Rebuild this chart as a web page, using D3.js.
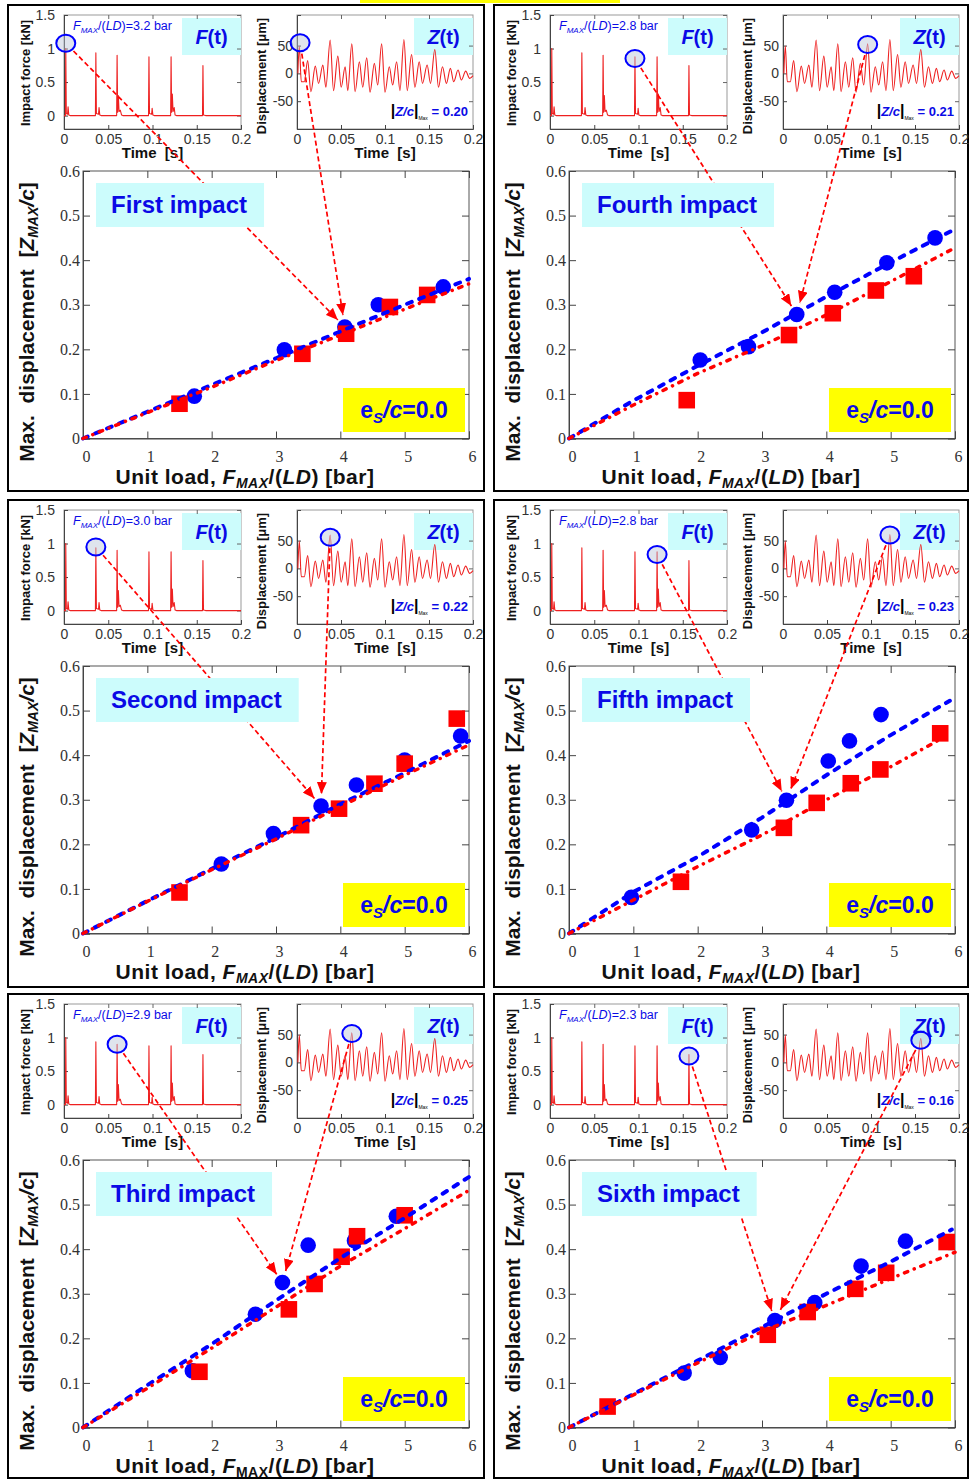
<!DOCTYPE html>
<html>
<head>
<meta charset="utf-8">
<script src="https://cdn.jsdelivr.net/npm/d3@7/dist/d3.min.js"></script>
<style>
  body { margin: 0; background: #fff; }
  svg { display: block; font-family: "Liberation Sans", Arial, sans-serif; }
</style>
</head>
<body>
<svg id="chart" width="969" height="1479"></svg>
<script>
// ---------------- data ----------------
const impactNames = ["First impact", "Second impact", "Third impact", "Fourth impact", "Fifth impact", "Sixth impact"];
const unitLoadLabels = ["3.2", "3.0", "2.9", "2.8", "2.8", "2.3"];
const zcMaxLabels = ["0.20", "0.22", "0.25", "0.21", "0.23", "0.16"];

const loadTicks = [0, 1, 2, 3, 4, 5, 6];
const dispTicks = [0, 0.1, 0.2, 0.3, 0.4, 0.5, 0.6];
const timeTicks = [0, 0.05, 0.1, 0.15, 0.2];
const forceTicks = [0, 0.5, 1, 1.5];
const zTicks = [-50, 0, 50];

// blue circles (measured) per impact: [unit load, Zmax/c]
const circlePts = [
  [[1.73, 0.095], [3.13, 0.199], [4.07, 0.25], [4.59, 0.30], [5.6, 0.34]],
  [[2.15, 0.156], [2.96, 0.224], [3.70, 0.286], [4.25, 0.333], [5.0, 0.389], [5.87, 0.443]],
  [[1.70, 0.127], [2.68, 0.254], [3.10, 0.325], [3.50, 0.409], [4.22, 0.419], [4.87, 0.474]],
  [[2.04, 0.176], [2.79, 0.206], [3.54, 0.278], [4.13, 0.328], [4.94, 0.394], [5.69, 0.45]],
  [[0.97, 0.081], [2.84, 0.232], [3.38, 0.299], [4.03, 0.387], [4.36, 0.432], [4.85, 0.491]],
  [[1.79, 0.122], [2.35, 0.157], [3.20, 0.24], [3.82, 0.28], [4.54, 0.362], [5.23, 0.418]]
];
// red squares per impact
const squarePts = [
  [[1.50, 0.078], [3.41, 0.19], [4.09, 0.235], [4.77, 0.295], [5.35, 0.322]],
  [[1.50, 0.092], [3.39, 0.243], [3.98, 0.280], [4.53, 0.336], [5.0, 0.381], [5.81, 0.482]],
  [[1.81, 0.125], [3.20, 0.265], [3.60, 0.322], [4.02, 0.383], [4.26, 0.429], [5.0, 0.476]],
  [[1.83, 0.086], [3.42, 0.232], [4.10, 0.281], [4.77, 0.332], [5.36, 0.364]],
  [[1.74, 0.116], [3.34, 0.237], [3.85, 0.293], [4.38, 0.337], [4.84, 0.368], [5.77, 0.449]],
  [[0.60, 0.047], [3.09, 0.208], [3.71, 0.259], [4.45, 0.311], [4.93, 0.347], [5.87, 0.416]]
];
// calculated curves
const blueLine = [
  [[0, 0], [1, 0.06], [2, 0.12], [3, 0.18], [4, 0.24], [5, 0.30], [6, 0.358]],
  [[0, 0], [1, 0.073], [2, 0.145], [3, 0.215], [4, 0.29], [5, 0.36], [6, 0.432]],
  [[0, 0], [1, 0.095], [2, 0.187], [3, 0.285], [4, 0.38], [5, 0.47], [6, 0.562]],
  [[0, 0], [1, 0.085], [2, 0.163], [3, 0.238], [4, 0.318], [5, 0.395], [5.95, 0.466]],
  [[0, 0], [1, 0.093], [2, 0.172], [3, 0.26], [4, 0.355], [5, 0.445], [5.92, 0.522]],
  [[0, 0], [1, 0.075], [2, 0.15], [3, 0.225], [4, 0.30], [5, 0.372], [5.95, 0.444]]
];
const redLine = [
  [[0, 0], [1, 0.058], [2, 0.115], [3, 0.175], [4, 0.232], [5, 0.29], [6, 0.347]],
  [[0, 0], [1, 0.072], [2, 0.143], [3, 0.212], [4, 0.285], [5, 0.355], [6, 0.423]],
  [[0, 0], [1, 0.088], [2, 0.178], [3, 0.27], [4, 0.362], [5, 0.446], [6, 0.532]],
  [[0, 0], [1, 0.075], [2, 0.146], [3, 0.208], [4, 0.277], [5, 0.352], [5.95, 0.424]],
  [[0, 0], [1, 0.075], [2, 0.15], [3, 0.221], [4, 0.30], [5, 0.374], [5.95, 0.45]],
  [[0, 0], [1, 0.073], [2, 0.145], [3, 0.215], [4, 0.274], [5, 0.334], [6, 0.393]]
];
const arrowTarget = [2, 2, 2, 2, 2, 2]; // which circle the arrows point at

// impact force record F(t) [s, kN]
const forceTrace = [
  [0, 0], [0.0016, 0], [0.0020, 1.00], [0.0026, 0.03], [0.0040, 0.02], [0.0046, 0.13], [0.0054, 0.01], [0.0070, 0],
  [0.0355, 0], [0.0360, 0.935], [0.0366, 0.03], [0.0390, 0.02], [0.0396, 0.12], [0.0404, 0.01], [0.0420, 0],
  [0.0595, 0], [0.0600, 0.90], [0.0606, 0.05], [0.0614, 0.30], [0.0622, 0.06], [0.0636, 0.08], [0.0650, 0.01], [0.0665, 0],
  [0.0955, 0], [0.0960, 0.875], [0.0966, 0.03], [0.0990, 0.02], [0.0996, 0.11], [0.1004, 0.01], [0.1020, 0],
  [0.1205, 0], [0.1210, 0.875], [0.1216, 0.05], [0.1224, 0.32], [0.1232, 0.06], [0.1245, 0.12], [0.1255, 0.01], [0.1270, 0],
  [0.1565, 0], [0.1570, 0.745], [0.1576, 0.01], [0.1600, 0], [0.2, 0]
];
// displacement record Z(t) [s, um]
const dispTrace = [
  [0.001, 0], [0.0026, 49], [0.0049, -15], [0.0083, -15], [0.0121, 23], [0.0158, -33], [0.0208, 13],
  [0.0245, -18], [0.0294, 15], [0.0328, -25], [0.0377, 60], [0.0415, -31], [0.0464, 31], [0.0502, -25],
  [0.0547, 12], [0.0577, -31], [0.0623, 53], [0.066, -33], [0.0709, 21], [0.0747, -25], [0.0792, 28],
  [0.083, -34], [0.0879, 18], [0.0917, -21], [0.0962, 53], [0.1, -34], [0.1049, 12], [0.1087, -21],
  [0.1132, 21], [0.117, -31], [0.1215, 61], [0.1253, -31], [0.1302, 34], [0.134, -25], [0.1389, 21],
  [0.1426, -18], [0.1479, 15], [0.1517, -18], [0.1566, 43], [0.1608, -25], [0.1653, 12], [0.1698, -18],
  [0.1743, 9], [0.1781, -15], [0.183, 6], [0.1868, -12], [0.1917, 4], [0.1962, -9], [0.2, -4]
];
// circled peaks in the insets
const forceMark = [[0.002, 1.08], [0.036, 0.95], [0.060, 0.90], [0.096, 0.85], [0.121, 0.835], [0.157, 0.725]];
const dispMark = [[0.0035, 55], [0.0377, 56], [0.0623, 52], [0.0962, 52], [0.1215, 60], [0.1566, 40]];

// ---------------- drawing ----------------
const BLUE = "#0000ff", TXT = "#0a0ae6", RED = "#ff0000", CYAN = "#ccfcfc";
const svg = d3.select("#chart");

svg.append("defs").append("marker")
  .attr("id", "ah").attr("viewBox", "0 0 12 10")
  .attr("refX", 12).attr("refY", 5)
  .attr("markerWidth", 12).attr("markerHeight", 10)
  .attr("markerUnits", "userSpaceOnUse").attr("orient", "auto")
  .append("path").attr("d", "M0,0L12,5L0,10z").attr("fill", RED);

// cut-off title strip
svg.append("rect").attr("x", 360).attr("y", 0).attr("width", 260).attr("height", 3).attr("fill", "#ffff00");

function rich(text, parts) {
  let shift = 0;
  parts.forEach(p => {
    const ts = text.append("tspan").text(p.t);
    const want = p.dy || 0;
    if (want !== shift) { ts.attr("dy", want - shift); shift = want; }
    if (p.it) ts.attr("font-style", "italic");
    if (p.fs) ts.attr("font-size", p.fs);
    if (p.fill) ts.attr("fill", p.fill);
    if (p.fw) ts.attr("font-weight", p.fw);
  });
  return text;
}

function styleAxis(a, size, family) {
  a.select(".domain").attr("stroke", "#444");
  a.selectAll(".tick line").attr("stroke", "#444");
  a.selectAll(".tick text").attr("fill", "#333").attr("font-size", size).attr("font-family", family);
}

function drawInset(g, xs, ys, yTicks, yPad, trace, curve, mark, tag) {
  const [x0, x1] = xs.range(), [yb, yt] = ys.range();
  g.append("rect").attr("x", x0).attr("y", yt).attr("width", x1 - x0).attr("height", yb - yt)
    .attr("fill", "#fff").attr("stroke", "#999");
  g.append("rect").attr("x", x1 - 59).attr("y", yt + 3).attr("width", 59).attr("height", 37).attr("fill", CYAN);
  rich(g.append("text").attr("x", x1 - 29.5).attr("y", yt + 29).attr("text-anchor", "middle")
    .attr("font-size", 20).attr("font-weight", "bold").attr("fill", TXT),
    [{ t: tag, it: true }, { t: "(t)" }]);

  const bx = g.append("g").attr("transform", `translate(0,${yb})`)
    .call(d3.axisBottom(xs).tickValues(timeTicks).tickSize(-4).tickPadding(5).tickFormat(d => String(d)));
  styleAxis(bx, 14, "Liberation Sans");
  const tx = g.append("g").attr("transform", `translate(0,${yt})`)
    .call(d3.axisTop(xs).tickValues(timeTicks.slice(1, -1)).tickSize(-4).tickFormat(""));
  tx.select(".domain").remove(); tx.selectAll("line").attr("stroke", "#666");
  const ly = g.append("g").attr("transform", `translate(${x0},0)`)
    .call(d3.axisLeft(ys).tickValues(yTicks).tickSize(-4).tickPadding(yPad).tickFormat(d => String(d)));
  styleAxis(ly, 14, "Liberation Sans");
  const ry = g.append("g").attr("transform", `translate(${x1},0)`)
    .call(d3.axisRight(ys).tickValues(yTicks).tickSize(-4).tickFormat(""));
  ry.select(".domain").remove(); ry.selectAll("line").attr("stroke", "#666");

  g.append("path").datum(trace)
    .attr("d", d3.line().x(d => xs(d[0])).y(d => ys(d[1])).curve(curve))
    .attr("fill", "none").attr("stroke", "#ee2020").attr("stroke-width", 1.1).attr("stroke-linejoin", "round");

  g.append("ellipse").attr("cx", xs(mark[0])).attr("cy", ys(mark[1])).attr("rx", 9.5).attr("ry", 8.5)
    .attr("fill", "rgba(185,195,215,0.45)").attr("stroke", BLUE).attr("stroke-width", 2);

  g.append("text").attr("x", (x0 + x1) / 2).attr("y", 153).attr("text-anchor", "middle")
    .attr("font-size", 15).attr("font-weight", "bold").attr("fill", "#111")
    .style("white-space", "pre").text("Time  [s]");
}

function arrow(g, sx, sy, tx, ty, endGap) {
  const dx = tx - sx, dy = ty - sy, L = Math.hypot(dx, dy), ux = dx / L, uy = dy / L;
  g.append("line")
    .attr("x1", sx + ux * 11).attr("y1", sy + uy * 11)
    .attr("x2", tx - ux * endGap).attr("y2", ty - uy * endGap)
    .attr("stroke", RED).attr("stroke-width", 1.7).attr("stroke-dasharray", "5,3")
    .attr("marker-end", "url(#ah)");
}

function drawPanel(i) {
  const col = Math.floor(i / 3), row = i % 3;
  const px = col ? 494 : 8, py = [5, 500, 994][row];
  const pw = col ? 474 : 476, ph = [486, 487, 484][row];
  const g = svg.append("g").attr("transform", `translate(${px},${py})`);
  g.append("rect").attr("width", pw).attr("height", ph).attr("fill", "#fff")
    .attr("stroke", "#000").attr("stroke-width", 2);

  // ---- insets ----
  const fx = d3.scaleLinear().domain([0, 0.2]).range([56, 233]);
  const fy = d3.scaleLinear().domain([-0.2, 1.5]).range([124, 10]);
  const zx = d3.scaleLinear().domain([0, 0.2]).range([289, 465]);
  const zy = d3.scaleLinear().domain([-100, 105]).range([124, 10]);

  drawInset(g, fx, fy, forceTicks, 9, forceTrace, d3.curveLinear, forceMark[i], "F");
  drawInset(g, zx, zy, zTicks, 4, dispTrace, d3.curveMonotoneX, dispMark[i], "Z");

  g.append("text").attr("transform", "translate(22,68) rotate(-90)").attr("text-anchor", "middle")
    .attr("font-size", 13).attr("font-weight", "bold").attr("fill", "#111").text("Impact force [kN]");
  g.append("text").attr("transform", "translate(258,71) rotate(-90)").attr("text-anchor", "middle")
    .attr("font-size", 13).attr("font-weight", "bold").attr("fill", "#111").text("Displacement [\u03bcm]");

  rich(g.append("text").attr("x", 65).attr("y", 25).attr("font-size", 12.5).attr("fill", TXT),
    [{ t: "F", it: true }, { t: "MAX", it: true, fs: 8, dy: 3 }, { t: "/(", dy: 0 }, { t: "LD", it: true },
     { t: ")=" + unitLoadLabels[i] + " bar" }]);

  rich(g.append("text").attr("x", 460).attr("y", 111).attr("text-anchor", "end")
    .attr("font-size", 13).attr("font-weight", "bold").attr("fill", TXT),
    [{ t: "|", fill: "#000", fs: 16 }, { t: "Z/c", it: true }, { t: "|", fill: "#000", fs: 16 },
     { t: "Max", fs: 5, dy: 4, fill: "#000", fw: "normal" }, { t: "  = " + zcMaxLabels[i], dy: 0 }]);

  // ---- main plot ----
  const mx = d3.scaleLinear().domain([0, 6]).range([75, 461]);
  const my = d3.scaleLinear().domain([0, 0.6]).range([433.5, 166]);

  g.append("rect").attr("x", 75).attr("y", 166).attr("width", 386).attr("height", 267.5)
    .attr("fill", "none").attr("stroke", "#555");
  const ax = g.append("g").attr("transform", "translate(0,433.5)")
    .call(d3.axisBottom(mx).tickValues(loadTicks).tickSize(-7).tickPadding(12).tickFormat(d => String(d)));
  styleAxis(ax, 16, "Liberation Serif");
  ax.selectAll(".tick text").attr("dx", 3);
  const ay = g.append("g").attr("transform", "translate(75,0)")
    .call(d3.axisLeft(my).tickValues(dispTicks).tickSize(-7).tickPadding(3).tickFormat(d => d === 0 ? "0" : d.toFixed(1)));
  styleAxis(ay, 16, "Liberation Serif");
  const at = g.append("g").attr("transform", "translate(0,166)")
    .call(d3.axisTop(mx).tickValues(loadTicks).tickSize(-7).tickFormat(""));
  at.select(".domain").remove(); at.selectAll("line").attr("stroke", "#444");
  const ar = g.append("g").attr("transform", "translate(461,0)")
    .call(d3.axisRight(my).tickValues(dispTicks).tickSize(-7).tickFormat(""));
  ar.select(".domain").remove(); ar.selectAll("line").attr("stroke", "#444");

  g.selectAll(".circ").data(circlePts[i]).enter().append("circle")
    .attr("cx", d => mx(d[0])).attr("cy", d => my(d[1])).attr("r", 7.8).attr("fill", BLUE);
  g.selectAll(".sq").data(squarePts[i]).enter().append("rect")
    .attr("x", d => mx(d[0]) - 8.3).attr("y", d => my(d[1]) - 8.3)
    .attr("width", 16.6).attr("height", 16.6).attr("fill", RED);

  const line = d3.line().x(d => mx(d[0])).y(d => my(d[1]));
  g.append("path").datum(blueLine[i]).attr("d", line).attr("fill", "none")
    .attr("stroke", BLUE).attr("stroke-width", 4).attr("stroke-linecap", "round")
    .attr("stroke-dasharray", "5,8");
  g.append("path").datum(redLine[i]).attr("d", line).attr("fill", "none")
    .attr("stroke", RED).attr("stroke-width", 3.5).attr("stroke-linecap", "round")
    .attr("stroke-dasharray", "3.5,7,0.1,7");

  rich(g.append("text").attr("transform", "translate(26,317) rotate(-90)").attr("text-anchor", "middle")
    .attr("font-size", 21).attr("font-weight", "bold").attr("fill", "#111").style("white-space", "pre"),
    [{ t: "Max.  displacement  [" }, { t: "Z", it: true }, { t: "MAX", it: true, fs: 14, dy: 4 },
     { t: "/c", it: true, dy: 0 }, { t: "]" }]);
  rich(g.append("text").attr("x", 237).attr("y", 479).attr("text-anchor", "middle")
    .attr("font-size", 21).attr("font-weight", "bold").attr("fill", "#111").attr("letter-spacing", 0.5),
    [{ t: "Unit load, " }, { t: "F", it: true }, { t: "MAX", it: i !== 2, fs: 14, dy: 4 },
     { t: "/(", dy: 0 }, { t: "LD", it: true }, { t: ") [bar]" }]);

  // ---- arrows from the circled peaks ----
  const tgt = circlePts[i][arrowTarget[i]];
  const tX = mx(tgt[0]), tY = my(tgt[1]);
  arrow(g, fx(forceMark[i][0]), fy(forceMark[i][1]), tX, tY, 10);
  arrow(g, zx(dispMark[i][0]), zy(dispMark[i][1]), tX, tY, 12);

  // ---- label boxes ----
  const lb = g.append("g");
  const lt = lb.append("text").attr("x", 103).attr("y", 208).attr("font-size", 24)
    .attr("font-weight", "bold").attr("fill", TXT).text(impactNames[i]);
  const w = lt.node().getComputedTextLength();
  lb.insert("rect", "text").attr("x", 88).attr("y", 178).attr("width", w + 32).attr("height", 44).attr("fill", CYAN);

  g.append("rect").attr("x", 335).attr("y", 383).attr("width", 122).attr("height", 44).attr("fill", "#ffff00");
  rich(g.append("text").attr("x", 396).attr("y", 413).attr("text-anchor", "middle")
    .attr("font-size", 23).attr("font-weight", "bold").attr("fill", TXT),
    [{ t: "e" }, { t: "S", it: true, fs: 15, dy: 5 }, { t: "/c", it: true, dy: 0 }, { t: "=0.0" }]);
}

d3.range(6).forEach(drawPanel);
</script>
</body>
</html>
